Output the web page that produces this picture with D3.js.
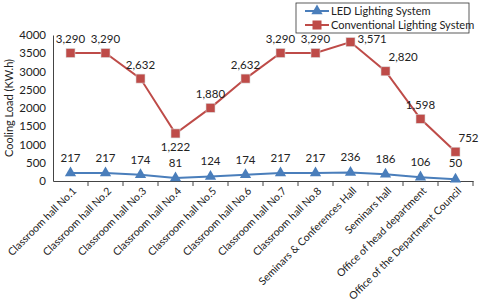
<!DOCTYPE html>
<html>
<head>
<meta charset="utf-8">
<script src="https://cdn.jsdelivr.net/npm/d3@7"></script>
<style>
  body { margin: 0; background: #fff; }
  text { font-family: Lato, "Noto Sans", sans-serif; fill: #222; }
</style>
</head>
<body>
<div id="chart"></div>
<script>
let WIDTH = 480
let HEIGHT = 304

// data
let categories = ["Classroom hall No.1", "Classroom hall No.2", "Classroom hall No.3", "Classroom hall No.4",
  "Classroom hall No.5", "Classroom hall No.6", "Classroom hall No.7", "Classroom hall No.8",
  "Seminars & Conferences Hall", "Seminars hall", "Office of head department", "Office of the Department Council"]
let ledValues = [217, 217, 174, 81, 124, 174, 217, 217, 236, 186, 106, 50]
let conventionalValues = [3290, 3290, 2632, 1222, 1880, 2632, 3290, 3290, 3571, 2820, 1598, 752]
let seriesNames = ["LED Lighting System", "Conventional Lighting System"]
let yTicks = [0, 500, 1000, 1500, 2000, 2500, 3000, 3500, 4000]

// where each conventional label sits relative to its marker
let convLabelPlace = ["above", "above", "above", "below", "above", "above", "above", "above", "right", "aboveRight", "above", "aboveRight"]

let colors = { led: "#4a7ebb", conv: "#be4b48" }

let margin = { top: 35, left: 53, right: 7, bottom: 123 }

let svg = d3.select("#chart")
    .append("svg")
    .attr("width", WIDTH)
    .attr("height", HEIGHT)

let rows = categories.map((c, i) => ({ cat: c, led: ledValues[i], conv: conventionalValues[i] }))
// stacked line chart: conventional drawn on top of LED
let stacked = d3.stack().keys(["led", "conv"])(rows)

let x = d3.scaleBand()
    .domain(categories)
    .range([margin.left, WIDTH - margin.right])
let y = d3.scaleLinear()
    .domain([0, 4000])
    .range([HEIGHT - margin.bottom, margin.top])

let cx = (c) => x(c) + x.bandwidth() / 2

// y axis
let yAxis = svg.append("g")
    .attr("transform", `translate(${margin.left},0)`)
    .call(d3.axisLeft(y).tickValues(yTicks).tickSize(0).tickPadding(7).tickFormat(d3.format("d")))
yAxis.select(".domain").attr("stroke", "#444").attr("stroke-width", 1)
yAxis.selectAll("text").style("font-size", "11.5px").attr("fill", "#222")

// x axis
let xAxis = svg.append("g")
    .attr("transform", `translate(0,${y(0)})`)
    .call(d3.axisBottom(x).tickSize(0).tickPadding(0))
xAxis.select(".domain").attr("stroke", "#444").attr("stroke-width", 1)
xAxis.selectAll(".tick line").remove()
xAxis.selectAll(".tick text")
    .style("font-size", "10.5px")
    .attr("fill", "#222")
    .attr("text-anchor", "end")
    .attr("dy", "0.35em")
    .attr("transform", "translate(4,8) rotate(-45)")
    .attr("x", 0)
    .attr("y", 0)
// boundary tick marks
svg.append("g").selectAll("line")
    .data(categories)
    .join("line")
    .attr("x1", (d) => x(d) + x.bandwidth())
    .attr("x2", (d) => x(d) + x.bandwidth())
    .attr("y1", y(0))
    .attr("y2", y(0) + 5)
    .attr("stroke", "#444")

// y title
svg.append("text")
    .attr("transform", `translate(13,${(y(0) + y(4000)) / 2}) rotate(-90)`)
    .attr("text-anchor", "middle")
    .style("font-size", "11px")
    .text("Cooling Load (KW.h)")

let line = d3.line().x((d) => cx(d.data.cat)).y((d) => y(d[1]))

// LED series
svg.append("path")
    .datum(stacked[0])
    .attr("d", line)
    .attr("fill", "none")
    .attr("stroke", colors.led)
    .attr("stroke-width", 2)
let tri = d3.symbol().type(d3.symbolTriangle).size(55)
svg.append("g").selectAll("path")
    .data(stacked[0])
    .join("path")
    .attr("d", tri)
    .attr("transform", (d) => `translate(${cx(d.data.cat)},${y(d[1])})`)
    .attr("fill", colors.led)

// Conventional series
svg.append("path")
    .datum(stacked[1])
    .attr("d", line)
    .attr("fill", "none")
    .attr("stroke", colors.conv)
    .attr("stroke-width", 2)
svg.append("g").selectAll("rect")
    .data(stacked[1])
    .join("rect")
    .attr("x", (d) => cx(d.data.cat) - 4.5)
    .attr("y", (d) => y(d[1]) - 4.5)
    .attr("width", 9)
    .attr("height", 9)
    .attr("fill", colors.conv)
    .attr("stroke", "#d9d9d9")
    .attr("stroke-width", 0.6)

// labels
let fmt = d3.format(",")
svg.append("g").selectAll("text")
    .data(stacked[0])
    .join("text")
    .attr("x", (d) => cx(d.data.cat))
    .attr("y", (d) => Math.min(y(d[1]) - 11, y(0) - 14))
    .attr("text-anchor", "middle")
    .style("font-size", "11.5px")
    .text((d) => fmt(d.data.led))

svg.append("g").selectAll("text")
    .data(stacked[1])
    .join("text")
    .attr("x", (d, i) => {
        let p = convLabelPlace[i]
        if (p === "right") return cx(d.data.cat) + 7
        if (p === "aboveRight") return cx(d.data.cat) + 3
        return cx(d.data.cat)
    })
    .attr("y", (d, i) => {
        let p = convLabelPlace[i]
        if (p === "below") return y(d[1]) + 18
        if (p === "right") return y(d[1]) + 1
        return y(d[1]) - 10
    })
    .attr("text-anchor", (d, i) => (convLabelPlace[i] === "right" || convLabelPlace[i] === "aboveRight") ? "start" : "middle")
    .style("font-size", "11.5px")
    .text((d) => fmt(d.data.conv))

// legend
let lg = svg.append("g").attr("transform", "translate(296,3)")
lg.append("rect")
    .attr("width", 173)
    .attr("height", 30)
    .attr("fill", "#fff")
    .attr("stroke", "#333")
    .attr("stroke-width", 0.8)
seriesNames.forEach((name, i) => {
    let ly = 8 + i * 14
    let col = i === 0 ? colors.led : colors.conv
    lg.append("line")
        .attr("x1", 9).attr("x2", 33)
        .attr("y1", ly).attr("y2", ly)
        .attr("stroke", col).attr("stroke-width", 2)
    if (i === 0) {
        lg.append("path").attr("d", tri).attr("transform", `translate(21,${ly})`).attr("fill", col)
    } else {
        lg.append("rect").attr("x", 16.5).attr("y", ly - 4.5).attr("width", 9).attr("height", 9).attr("fill", col)
    }
    lg.append("text")
        .attr("x", 35)
        .attr("y", ly)
        .attr("dy", "0.35em")
        .style("font-size", "11px")
        .text(name)
})
</script>
</body>
</html>
